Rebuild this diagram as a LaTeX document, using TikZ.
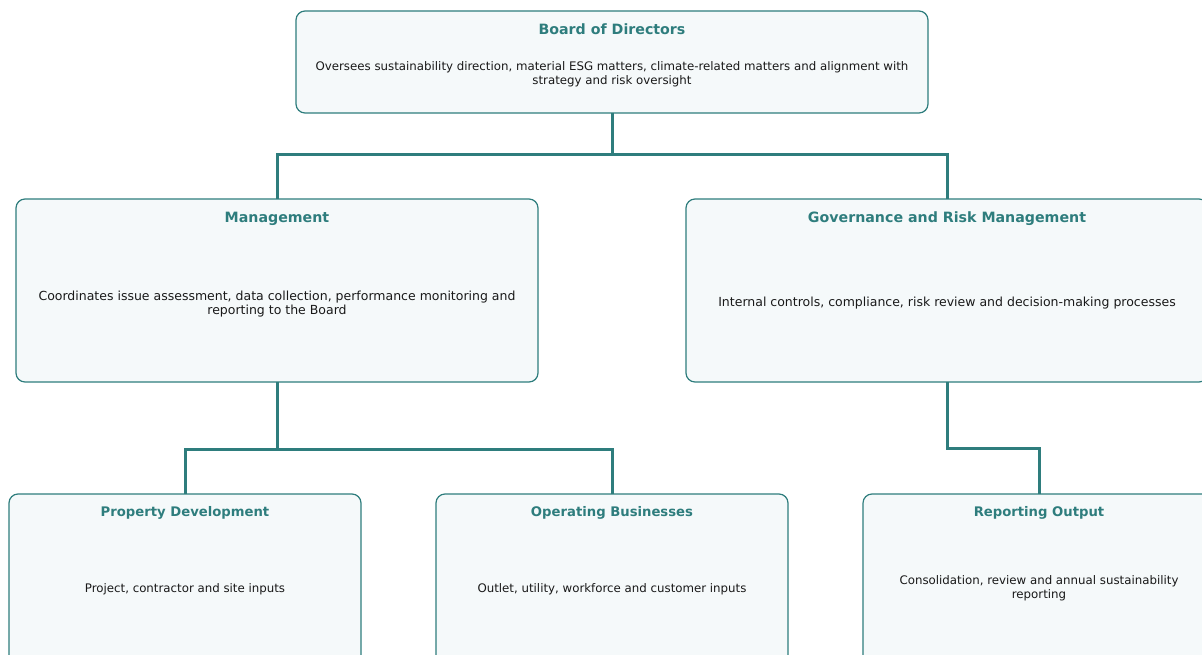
\documentclass[tikz,border=0pt]{standalone}
\usepackage{fontspec}
\setmainfont{DejaVu Sans}
\usetikzlibrary{positioning}
\definecolor{teal}{RGB}{46,125,125}
\definecolor{pale}{RGB}{245,249,250}
\definecolor{ink}{RGB}{25,25,25}

\begin{document}
\begin{tikzpicture}[x=1pt,y=-1pt]
  \tikzstyle{card}=[draw=teal,fill=pale,line width=1.2pt,rounded corners=9pt,inner sep=0pt,outer sep=0pt]
  \tikzstyle{head}=[text=teal,font=\fontsize{14.2}{16}\selectfont\bfseries,inner sep=0pt]
  \tikzstyle{body}=[text=ink,align=center,font=\fontsize{11.8}{14}\selectfont,inner sep=0pt]
  \tikzstyle{link}=[draw=teal,line width=3pt]
  \useasboundingbox (0,0) rectangle (1202,655);
  \clip (0,0) rectangle (1202,655);
  \node[card,minimum width=632pt,minimum height=102pt] (board) at (612,62) {};
  \node[card,minimum width=522pt,minimum height=183pt] (mgmt) at (277,290.5) {};
  \node[card,minimum width=522pt,minimum height=183pt] (gov) at (947,290.5) {};
  \node[card,minimum width=352pt,minimum height=183pt] (prop) at (185,585.5) {};
  \node[card,minimum width=352pt,minimum height=183pt] (op) at (612,585.5) {};
  \node[card,minimum width=352pt,minimum height=183pt] (rep) at (1039,585.5) {};
  \draw[link] (board.south) -- ++(0,42) -| (mgmt.north);
  \draw[link] (board.south) -- ++(0,42) -| (gov.north);
  \draw[link] (mgmt.south) -- ++(0,67) -| (prop.north);
  \draw[link] (mgmt.south) -- ++(0,67) -| (op.north);
  \draw[link] (gov.south) -- ++(0,66) -| (rep.north);
  \node[head] (boardT) at (612,29.5) {Board of Directors};
  \node[body] (boardB) at (612,74) {Oversees sustainability direction, material ESG matters, climate-related matters and alignment with\\strategy and risk oversight};
  \node[head] (mgmtT) at (277,218.5) {Management};
  \node[body,font=\fontsize{12.5}{14}\selectfont] (mgmtB) at (277,304) {Coordinates issue assessment, data collection, performance monitoring and\\reporting to the Board};
  \node[head] (govT) at (947,218.5) {Governance and Risk Management};
  \node[body,font=\fontsize{12.5}{14}\selectfont] (govB) at (947,303) {Internal controls, compliance, risk review and decision-making processes};
  \node[head,font=\fontsize{13.2}{15}\selectfont\bfseries] (propT) at (185,512.5) {Property Development};
  \node[body] (propB) at (185,589) {Project, contractor and site inputs};
  \node[head,font=\fontsize{13.2}{15}\selectfont\bfseries] (opT) at (612,512.5) {Operating Businesses};
  \node[body] (opB) at (612,589) {Outlet, utility, workforce and customer inputs};
  \node[head,font=\fontsize{13.2}{15}\selectfont\bfseries] (repT) at (1039,512.5) {Reporting Output};
  \node[body] (repB) at (1039,588.5) {Consolidation, review and annual sustainability\\reporting};
\end{tikzpicture}
\end{document}
